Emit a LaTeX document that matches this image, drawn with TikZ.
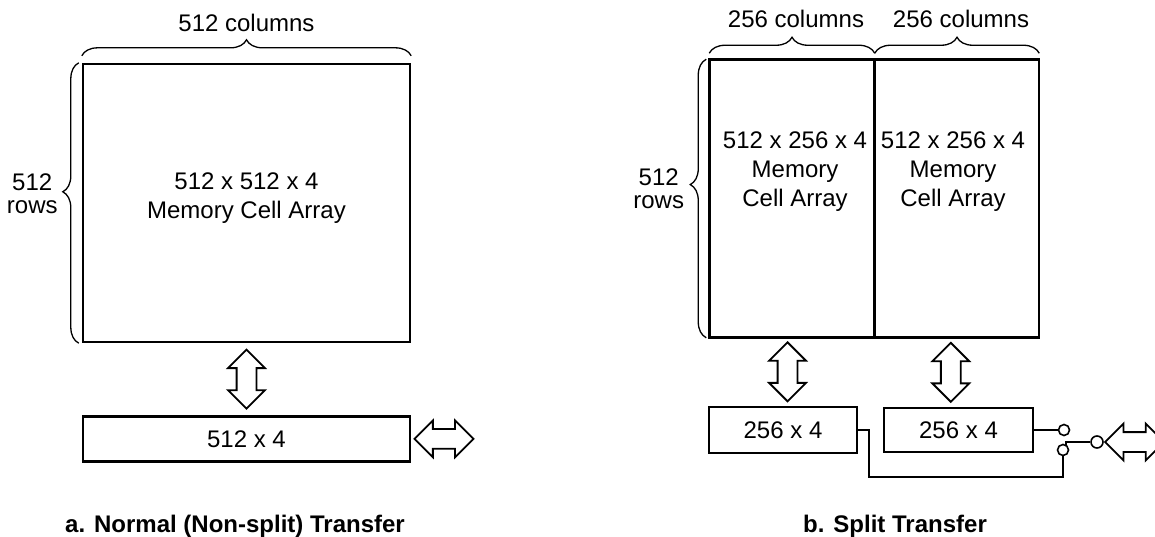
\documentclass[tikz,border=0pt]{standalone}
\usepackage{fontspec}
\setmainfont{Liberation Sans}
\usetikzlibrary{positioning, shapes.arrows, calc, decorations.pathreplacing}

\begin{document}
\begin{tikzpicture}[
    x=1pt, y=-1pt,
    cell/.style={draw, line width=2.4pt, inner sep=0pt},
    half/.style={draw, line width=1.5pt, inner sep=0pt},
    reg/.style={draw, line width=2.4pt, inner sep=0pt,
                font=\fontsize{24}{29}\selectfont},
    txt/.style={inner sep=0pt, align=center,
                font=\fontsize{24}{29}\selectfont},
    side/.style={inner sep=0pt, align=center,
                 font=\fontsize{24}{23}\selectfont},
    captxt/.style={inner sep=0pt, anchor=base west,
                   font=\fontsize{24}{28}\selectfont\bfseries},
    brc/.style={decorate, decoration={brace, amplitude=16pt},
                line width=1.3pt},
    xfer/.style={double arrow, draw, fill=white, line width=1.8pt,
                 minimum height=59pt, inner xsep=0pt, inner ysep=9pt,
                 text height=0pt, text depth=0pt,
                 double arrow head extend=8.5pt},
    sw/.style={circle, draw, fill=white, line width=1.6pt,
               minimum size=11pt, inner sep=0pt},
    wire/.style={line width=1.8pt}
  ]
  \useasboundingbox (0,0) rectangle (1155,537);

  % a. normal transfer
  \node[cell, minimum width=327pt, minimum height=278pt] (arrL) at (246.5,203) {};
  \node[txt] (arrLtxt) at ([yshift=4.4pt]arrL.center)
    {512 x 512 x 4\\Memory Cell Array};
  \node[reg, minimum width=327pt, minimum height=45pt,
        below=72pt of arrL] (regL) {512 x 4};
  \node[xfer, rotate=90] (busL) at ($(arrL.south)!0.5!(regL.north)$) {};
  \node[xfer, right=2pt of regL] (outL) {};

  % Braces for columns and rows
  \draw[brc] ([yshift=7pt]arrL.north west) -- ([yshift=7pt]arrL.north east);
  \node[txt, anchor=south] (colL) at ([yshift=31pt]arrL.north) {512 columns};
  \draw[brc, decoration={aspect=0.54}]
    ([xshift=-3pt]arrL.south west) -- ([xshift=-3pt]arrL.north west);
  \node[side, anchor=east] (rowsL) at ([xshift=-24pt, yshift=9.6pt]arrL.west)
    {512\\rows};

  % b. split transfer
  \node[half, minimum width=164pt, minimum height=277pt] (arrR1) at (792,198.5) {};
  \node[half, minimum width=163pt, minimum height=277pt,
        right=0pt of arrR1] (arrR2) {};
  \draw[line width=2.4pt] (arrR1.north west) rectangle (arrR2.south east);
  \node[txt] (arrR1txt) at ([xshift=3pt, yshift=27pt]arrR1.center)
    {512 x 256 x 4\\Memory\\Cell Array};
  \node[txt] (arrR2txt) at ([xshift=-4pt, yshift=27pt]arrR2.center)
    {512 x 256 x 4\\Memory\\Cell Array};

  \draw[brc] ([yshift=6pt]arrR1.north west) -- ([yshift=6pt]arrR1.north east);
  \draw[brc] ([yshift=6pt]arrR2.north west) -- ([yshift=6pt]arrR2.north east);
  \node[txt, anchor=south] (colR1) at ([xshift=4pt, yshift=31pt]arrR1.north)
    {256 columns};
  \node[txt, anchor=south] (colR2) at ([xshift=4pt, yshift=31pt]arrR2.north)
    {256 columns};
  \draw[brc, decoration={aspect=0.55}]
    ([xshift=-3pt]arrR1.south west) -- ([xshift=-3pt]arrR1.north west);
  \node[side, anchor=east] (rowsR) at ([xshift=-25pt, yshift=10pt]arrR1.west)
    {512\\rows};

  \node[reg, minimum width=148pt, minimum height=46pt] (regR1) at (783,430)
    {256 x 4};
  \node[reg, minimum width=149pt, minimum height=44pt] (regR2) at (958.5,430)
    {256 x 4};
  \node[xfer, rotate=90] (busR1) at ($(arrR1.south)!0.5!(regR1.north)$) {};
  \node[xfer, rotate=90] (busR2)
    at ($(arrR2.south)!0.5!(regR2.north)+(-7,0)$) {};

  % Switch to the serial port
  \node[sw] (swA) at (1064,430) {};
  \node[sw] (swB) at (1063,450) {};
  \node[sw, minimum size=12pt] (swC) at (1097,442) {};
  \node[xfer, right=0pt of swC] (outR) {};
  \draw[wire] (regR2.east) -- (swA.west);
  \draw[wire] (regR1.east) -- ++(11,0) |- ([yshift=-21pt]swB.south)
    -- (swB.south);
  \draw[wire] (swB.60) |- (swC.west);

  % Captions
  \node[captxt] (capA) at (65,532) {a. Normal (Non-split) Transfer};
  \node[captxt] (capB) at (803,532) {b. Split Transfer};
\end{tikzpicture}
\end{document}
